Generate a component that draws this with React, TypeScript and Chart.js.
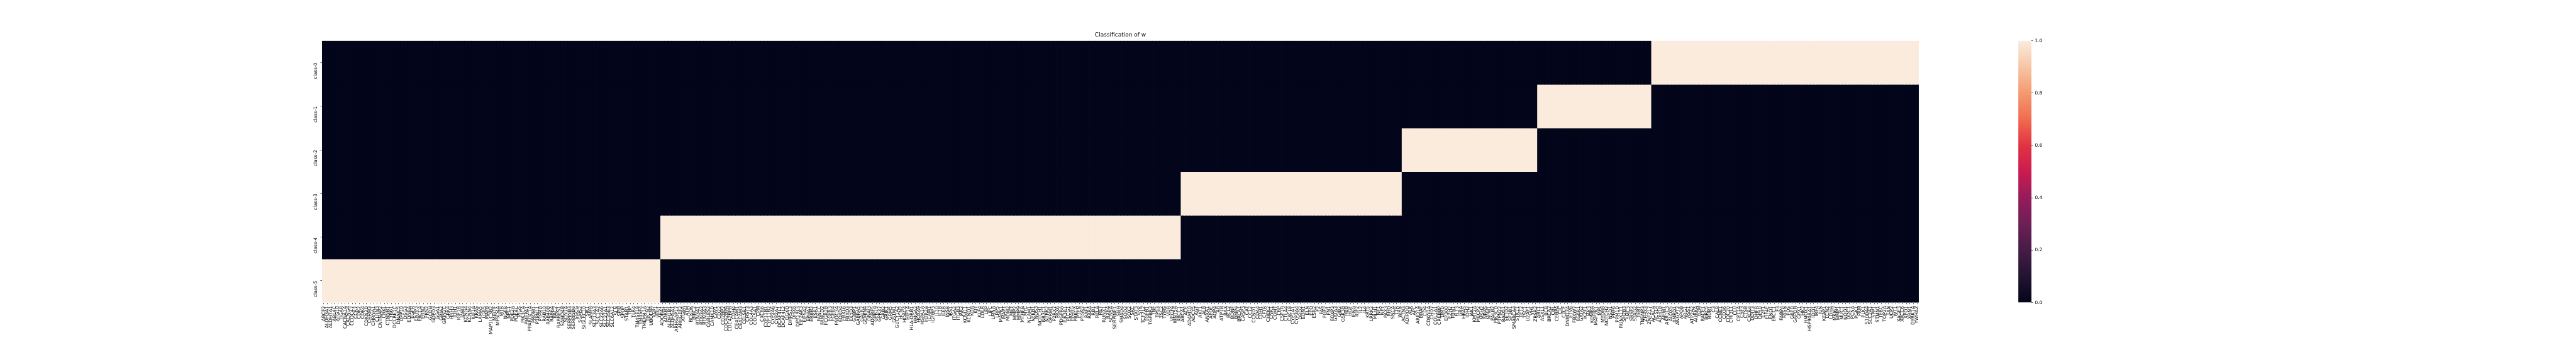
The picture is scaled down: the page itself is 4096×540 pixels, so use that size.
import React, { useEffect, useRef } from "react";
import { Chart, registerables } from "chart.js";

Chart.register(...registerables);

// ---- DATA ----
const titleText = "Classification of w";
const rowLabels = ["class-0", "class-1", "class-2", "class-3", "class-4", "class-5"];

const class5Genes = [
  "ABCF2", "ALDH3A1", "ALDH7A1", "ARL4C", "ATG10", "TIGAR", "CACNA1A", "CACNG4", "CCDC47", "CCR7",
  "CDK2", "CDK4", "CDKN2D", "CHRM3", "CHRNA1", "CLRN3", "CNTNAP2", "CRKL", "CTNNB1", "CYR61",
  "DCLRE1C", "DNAJC5", "DPP10", "DSG3", "EDNRA", "EGFR", "ENPP3", "ERCC4", "ERN2", "FRS2",
  "GCDH", "GDPD3", "GGA1", "GRIA2", "GRIN2C", "GRK4", "HRH3", "IDH1", "IGF1R", "JAM3",
  "KCNG4", "KCNN4", "KIF1A", "KRAS", "LAMA5", "LGR5", "MAFB", "MAP1LC3B2", "MELTF", "MFSD4A",
  "MTR", "NGFR", "NPC1", "PDE2A", "PDE4C", "PIGS", "PIK3CA", "PMEPA1", "PPARGC1A", "PROM1",
  "PTPN11", "PTPRD", "RAB10", "RAB40B", "RAB6A", "RAC2", "RARRES1", "SAMD4B", "SCN7A", "SERPINB3",
  "SERPINB4", "SGCG", "SGMS2", "SIGLEC10", "SIK1", "SLAMF8", "SLC13A3", "SLC1A2", "SLC22A6", "SLC27A1",
  "SLC35E3", "SLC6A12", "SLN", "SPIB", "SPOP", "STAB1", "TBP", "TLR4", "TM4SF18", "TM4SF4",
  "TMEM41A", "TPCN2", "UBQLN4", "YAP1", "YES1",
];
const class4Genes = [
  "ADORA1", "ADRB1", "ALDH1B1", "ALDH5A1", "ARHGAP17", "ARHGEF2", "ATG9A", "ATM", "BCKDK", "BIRC2",
  "BTN3A1", "BTN3A2", "BTN3A3", "CABLES2", "CAMK1D", "CAV1", "CD22", "CD2BP2", "CDC42BPA", "CDC42BPB",
  "CDH4", "CEACAM1", "CEACAM3", "CELSR1", "CHST3", "COL4A3", "COL5A1", "CPM", "CXCR6", "CYP11B1",
  "CYP11B2", "CYP2A6", "CYP2A7", "DCAF4L1", "DCAF4L2", "DGKQ", "DHRS13", "DHX8", "DPY19L3", "EIF2AK3",
  "EIF5A2", "EPHA7", "ERBB2", "ESR1", "FANCC", "FANCD2", "FCGR2B", "FGFR3", "FGFR4", "FNDC3A",
  "FOXD4", "FBXL6", "FBXO3", "FXYD3", "G3BP1", "GABRA5", "GALR2", "GEMIN4", "GNAI3", "ADGRF5",
  "GPR19", "GPR37", "GRB2", "GRIK1", "GRM5", "GSTM1", "GUCY1A2", "HCN2", "HDAC4", "HIF1A",
  "HLA-DRB1", "HMGA2", "HOXA9", "HSPA1A", "HTR2A", "ICAM1", "IGFBP3", "IL10", "IL1B", "IL6R",
  "INSR", "IRS1", "ITGA2", "ITGB3", "JAK2", "KCNJ11", "KCNQ1", "KDR", "KIT", "KLF4",
  "LDLR", "LEP", "LIPC", "LMNA", "LRP5", "MAPK1", "MAPT", "MDM2", "MET", "MMP2",
  "MMP9", "MTHFR", "MYC", "NCAM1", "NFKB1", "NOS3", "NOTCH1", "NR3C1", "NTRK2", "OPRM1",
  "P2RX7", "PAX6", "PDGFRA", "PIK3R1", "PLCG1", "PPARG", "PRKCA", "PTEN", "PTGS2", "RAF1",
  "RARA", "RB1", "RELA", "RET", "RUNX1", "RXRA", "SCN5A", "SERPINE1", "SHH", "SMAD4",
  "SOD2", "SOX2", "SRC", "STAT3", "SYK", "TCF7L2", "TGFB1", "TGFBR2", "TNF", "TP53",
  "TSC2", "TYMS", "VDR", "VEGFA", "WNT5A", "XRCC1",
];
const class3Genes = [
  "ABCA1", "ACE", "ADAM10", "ADCY5", "AGT", "AKT1", "ALB", "ANXA1", "APOE", "AQP4",
  "AR", "ATP7B", "BAX", "BCL2", "BDNF", "BMP4", "BRCA1", "CASP3", "CAT", "CCL2",
  "CCND1", "CD44", "CDH1", "CFTR", "CHEK2", "CNR1", "COMT", "CRP", "CSF1R", "CTLA4",
  "CXCL8", "CYP1A1", "CYP3A4", "DRD2", "EDN1", "ELN", "EPO", "ESR2", "F2", "FAS",
  "FGF2", "FN1", "FOXP3", "GATA3", "GJB2", "GSK3B", "HBB", "HGF", "IFNG", "IGF2",
  "IL2", "IL4", "KRT5", "LRRK2", "MLH1", "NF1", "NPY", "PAX3", "RHO", "SNCA",
  "TTR", "WRN",
];
const class2Genes = [
  "ACTN3", "ADIPOQ", "ALK", "APC", "ARID1A", "BRAF", "CD4", "CDKN1A", "CHD7", "COL1A1",
  "CREBBP", "DMD", "EP300", "EZH2", "FBN1", "FLT3", "GBA", "HRAS", "IDH2", "JAK1",
  "KMT2A", "MECP2", "MSH2", "NRAS", "NPM1", "PALB2", "PIK3CD", "PTPN22", "RAD51", "SETD2",
  "SF3B1", "SMARCA4", "STK11", "TET2", "TSC1", "U2AF1", "VHL", "ZRSR2",
];
const class1Genes = [
  "ABL1", "ASXL1", "BCR", "BRCA2", "CBL", "CEBPA", "CIC", "CTCF", "DNMT3A", "ETV6",
  "FBXW7", "FGFR1", "GATA2", "IKZF1", "JAK3", "KDM6A", "MAP2K1", "MPL", "MYD88", "NOTCH2",
  "NSD1", "PHF6", "PPM1D", "RUNX1T1", "SH2B3", "SMC3", "SRSF2", "STAG2", "TERT", "TNFAIP3",
  "ZFHX3", "ZNF217",
];
const class0Genes = [
  "ACACA", "ACSL4", "ADH1B", "AIFM1", "AKR1C3", "ALOX5", "AMPD1", "ANGPT2", "APOB", "ARG1",
  "ASS1", "ATP2A2", "AURKA", "B2M", "BACE1", "BIRC5", "BUB1", "C3", "CALR", "CCNE1",
  "CD36", "CDC20", "CHI3L1", "CLU", "CPT1A", "CSF3", "CTSB", "CXCR4", "DDIT3", "DHFR",
  "DPYD", "E2F1", "EIF4E", "ENO1", "ERCC1", "F3", "FABP4", "FASN", "FOS", "G6PD",
  "GAPDH", "GPX1", "HK2", "HMOX1", "HSP90AA1", "IDO1", "IRF4", "JUN", "KEAP1", "LCN2",
  "LDHA", "MKI67", "MMP1", "MUC1", "NQO1", "ODC1", "PCNA", "PGK1", "PKM", "PLK1",
  "S100A4", "SLC2A1", "SPP1", "STMN1", "TFRC", "TOP2A", "TXN", "UCP2", "WT1", "XAGE3",
  "XRCC6", "XPO1", "XRN1", "DYRK1A", "YWHAZ",
];

// column blocks in display order, with the class row each block belongs to
const columnBlocks = [
  { row: 5, genes: class5Genes },
  { row: 4, genes: class4Genes },
  { row: 3, genes: class3Genes },
  { row: 2, genes: class2Genes },
  { row: 1, genes: class1Genes },
  { row: 0, genes: class0Genes },
];
const colorbarTicks = [0, 0.2, 0.4, 0.6, 0.8, 1.0];

// seaborn "rocket" colormap stops
const rocketStops: [number, string][] = [
  [0.0, "#03051A"],
  [0.1, "#221331"],
  [0.2, "#451C47"],
  [0.3, "#6C1F56"],
  [0.4, "#951C5B"],
  [0.5, "#CB1B4F"],
  [0.6, "#E13342"],
  [0.7, "#F06B4F"],
  [0.8, "#F5996F"],
  [0.9, "#F7C5A5"],
  [1.0, "#FAEBDD"],
];

const hexToRgb = (h: string) => [
  parseInt(h.slice(1, 3), 16),
  parseInt(h.slice(3, 5), 16),
  parseInt(h.slice(5, 7), 16),
];
const rocket = (v: number) => {
  for (let i = 1; i < rocketStops.length; i++) {
    const [p1, c1] = rocketStops[i];
    const [p0, c0] = rocketStops[i - 1];
    if (v <= p1) {
      const t = (v - p0) / (p1 - p0);
      const a = hexToRgb(c0);
      const b = hexToRgb(c1);
      const m = a.map((x, k) => Math.round(x + (b[k] - x) * t));
      return `rgb(${m[0]},${m[1]},${m[2]})`;
    }
  }
  return rocketStops[rocketStops.length - 1][1];
};

const FONT = "'DejaVu Sans', 'Liberation Sans', sans-serif";
const W = 4096;
const H = 540;

export default function App() {
  const mainRef = useRef<HTMLCanvasElement | null>(null);
  const cbRef = useRef<HTMLCanvasElement | null>(null);

  useEffect(() => {
    document.body.style.margin = "0";
    const genes: string[] = [];
    const geneRow: number[] = [];
    columnBlocks.forEach((b) => {
      b.genes.forEach((g) => {
        genes.push(g);
        geneRow.push(b.row);
      });
    });
    const values = rowLabels.map((_, r) => geneRow.map((gr) => (gr === r ? 1 : 0)));

    const datasets = rowLabels.map((_, r) => ({
      label: rowLabels[r],
      data: genes.map(() => [r, r + 1]),
      backgroundColor: values[r].map((v) => rocket(v)),
      borderWidth: 0,
      barPercentage: 1,
      categoryPercentage: 1,
      grouped: false,
      inflateAmount: 0.4,
    }));

    const main = new Chart(mainRef.current!, {
      type: "bar",
      data: { labels: genes.map((g) => g), datasets: datasets as any },
      options: {
        animation: false,
        responsive: false,
        devicePixelRatio: 1,
        layout: { padding: { left: 482, right: W - 3051, top: 0, bottom: 0 } },
        plugins: {
          legend: { display: false },
          tooltip: { enabled: false },
          title: {
            display: true,
            text: titleText,
            fullSize: false,
            color: "#000",
            font: { family: FONT, size: 9, weight: "normal" as any, lineHeight: 1.2 },
            padding: { top: 50, bottom: 4 },
          },
        },
        scales: {
          x: {
            type: "category",
            offset: true,
            border: { display: false },
            grid: {
              display: true,
              drawOnChartArea: false,
              drawTicks: true,
              tickLength: 2.6,
              tickColor: "#000",
              tickWidth: 0.6,
              offset: false,
            },
            ticks: {
              autoSkip: false,
              minRotation: 90,
              maxRotation: 90,
              padding: 2.7,
              color: "#000",
              font: { family: FONT, size: 7.5 },
            },
            afterFit: (s: any) => {
              s.height = H - 480.6;
            },
          },
          y: {
            type: "linear",
            min: 0,
            max: 6,
            reverse: true,
            border: { display: false },
            grid: {
              display: true,
              drawOnChartArea: false,
              drawTicks: true,
              tickLength: 2.6,
              tickColor: "#000",
              tickWidth: 0.6,
            },
            afterBuildTicks: (s: any) => {
              s.ticks = rowLabels.map((_, i) => ({ value: i + 0.5 }));
            },
            ticks: {
              minRotation: 90,
              maxRotation: 90,
              padding: 7,
              color: "#000",
              font: { family: FONT, size: 7.5 },
              callback: (_v: any, i: number) => rowLabels[i],
            },
            afterFit: (s: any) => {
              s.width = 30;
            },
          },
        },
      },
    });

    const CB_LEFT = 3190;
    const CB_W = 110;
    const cb = new Chart(cbRef.current!, {
      type: "bar",
      data: {
        labels: ["scale"],
        datasets: [
          {
            data: [[0, 1]] as any,
            borderWidth: 0,
            barPercentage: 1,
            categoryPercentage: 1,
            backgroundColor: (ctx: any) => {
              const ca = ctx.chart.chartArea;
              if (!ca) return rocket(0);
              const g = ctx.chart.ctx.createLinearGradient(0, ca.bottom, 0, ca.top);
              rocketStops.forEach(([p, c]) => g.addColorStop(p, c));
              return g;
            },
          },
        ],
      },
      options: {
        animation: false,
        responsive: false,
        devicePixelRatio: 1,
        layout: {
          padding: {
            left: 5943 * 0.54 - CB_LEFT,
            right: CB_W - (5982 * 0.54 - CB_LEFT) - 40,
            top: 64.8,
            bottom: H - 480.6,
          },
        },
        plugins: { legend: { display: false }, tooltip: { enabled: false } },
        scales: {
          x: { display: false },
          y: {
            type: "linear",
            position: "right",
            min: 0,
            max: 1,
            border: { display: false },
            grid: {
              display: true,
              drawOnChartArea: false,
              drawTicks: true,
              tickLength: 2.6,
              tickColor: "#000",
              tickWidth: 0.6,
            },
            afterBuildTicks: (s: any) => {
              s.ticks = colorbarTicks.map((v) => ({ value: v }));
            },
            ticks: {
              padding: 2.7,
              color: "#000",
              font: { family: FONT, size: 7.5 },
              callback: (v: any) => Number(v).toFixed(1),
            },
            afterFit: (s: any) => {
              s.width = 40;
            },
          },
        },
      },
    });

    return () => {
      main.destroy();
      cb.destroy();
    };
  }, []);

  return (
    <div style={{ position: "fixed", left: 0, top: 0, width: W, height: H, background: "#fff" }}>
      <canvas ref={mainRef} width={W} height={H} style={{ position: "absolute", left: 0, top: 0 }} />
      <canvas
        ref={cbRef}
        width={110}
        height={H}
        style={{ position: "absolute", left: 3190, top: 0 }}
      />
    </div>
  );
}
